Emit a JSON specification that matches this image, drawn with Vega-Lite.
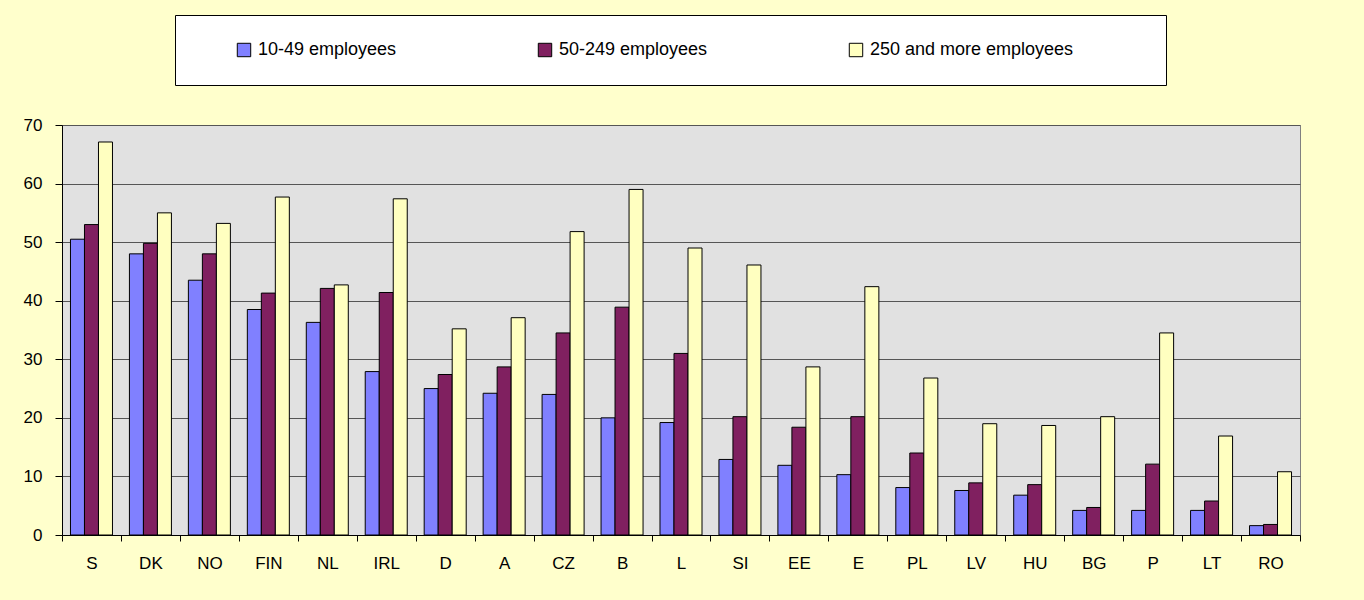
{
  "$schema": "https://vega.github.io/schema/vega-lite/v6.json",
  "width": 1238,
  "height": 410,
  "autosize": {"type": "none"},
  "padding": {"left": 62, "top": 125, "right": 64, "bottom": 65},
  "background": "#FFFFCC",
  "data": {"values": [
    {"country": "S", "size": "10-49 employees", "value": 50.5},
    {"country": "S", "size": "50-249 employees", "value": 53.0},
    {"country": "S", "size": "250 and more employees", "value": 67.1},
    {"country": "DK", "size": "10-49 employees", "value": 48.0},
    {"country": "DK", "size": "50-249 employees", "value": 49.8},
    {"country": "DK", "size": "250 and more employees", "value": 55.0},
    {"country": "NO", "size": "10-49 employees", "value": 43.5},
    {"country": "NO", "size": "50-249 employees", "value": 48.0},
    {"country": "NO", "size": "250 and more employees", "value": 53.2},
    {"country": "FIN", "size": "10-49 employees", "value": 38.5},
    {"country": "FIN", "size": "50-249 employees", "value": 41.3},
    {"country": "FIN", "size": "250 and more employees", "value": 57.7},
    {"country": "NL", "size": "10-49 employees", "value": 36.3},
    {"country": "NL", "size": "50-249 employees", "value": 42.1},
    {"country": "NL", "size": "250 and more employees", "value": 42.7},
    {"country": "IRL", "size": "10-49 employees", "value": 27.9},
    {"country": "IRL", "size": "50-249 employees", "value": 41.4},
    {"country": "IRL", "size": "250 and more employees", "value": 57.4},
    {"country": "D", "size": "10-49 employees", "value": 25.0},
    {"country": "D", "size": "50-249 employees", "value": 27.4},
    {"country": "D", "size": "250 and more employees", "value": 35.2},
    {"country": "A", "size": "10-49 employees", "value": 24.2},
    {"country": "A", "size": "50-249 employees", "value": 28.7},
    {"country": "A", "size": "250 and more employees", "value": 37.1},
    {"country": "CZ", "size": "10-49 employees", "value": 24.0},
    {"country": "CZ", "size": "50-249 employees", "value": 34.5},
    {"country": "CZ", "size": "250 and more employees", "value": 51.8},
    {"country": "B", "size": "10-49 employees", "value": 20.0},
    {"country": "B", "size": "50-249 employees", "value": 38.9},
    {"country": "B", "size": "250 and more employees", "value": 59.0},
    {"country": "L", "size": "10-49 employees", "value": 19.2},
    {"country": "L", "size": "50-249 employees", "value": 31.0},
    {"country": "L", "size": "250 and more employees", "value": 49.0},
    {"country": "SI", "size": "10-49 employees", "value": 12.9},
    {"country": "SI", "size": "50-249 employees", "value": 20.2},
    {"country": "SI", "size": "250 and more employees", "value": 46.1},
    {"country": "EE", "size": "10-49 employees", "value": 11.9},
    {"country": "EE", "size": "50-249 employees", "value": 18.4},
    {"country": "EE", "size": "250 and more employees", "value": 28.7},
    {"country": "E", "size": "10-49 employees", "value": 10.3},
    {"country": "E", "size": "50-249 employees", "value": 20.2},
    {"country": "E", "size": "250 and more employees", "value": 42.4},
    {"country": "PL", "size": "10-49 employees", "value": 8.1},
    {"country": "PL", "size": "50-249 employees", "value": 14.0},
    {"country": "PL", "size": "250 and more employees", "value": 26.8},
    {"country": "LV", "size": "10-49 employees", "value": 7.6},
    {"country": "LV", "size": "50-249 employees", "value": 8.9},
    {"country": "LV", "size": "250 and more employees", "value": 19.0},
    {"country": "HU", "size": "10-49 employees", "value": 6.8},
    {"country": "HU", "size": "50-249 employees", "value": 8.6},
    {"country": "HU", "size": "250 and more employees", "value": 18.7},
    {"country": "BG", "size": "10-49 employees", "value": 4.2},
    {"country": "BG", "size": "50-249 employees", "value": 4.7},
    {"country": "BG", "size": "250 and more employees", "value": 20.2},
    {"country": "P", "size": "10-49 employees", "value": 4.2},
    {"country": "P", "size": "50-249 employees", "value": 12.1},
    {"country": "P", "size": "250 and more employees", "value": 34.5},
    {"country": "LT", "size": "10-49 employees", "value": 4.2},
    {"country": "LT", "size": "50-249 employees", "value": 5.8},
    {"country": "LT", "size": "250 and more employees", "value": 16.9},
    {"country": "RO", "size": "10-49 employees", "value": 1.6},
    {"country": "RO", "size": "50-249 employees", "value": 1.8},
    {"country": "RO", "size": "250 and more employees", "value": 10.8}
  ]},
  "mark": {"type": "bar", "stroke": "#000000", "strokeWidth": 1},
  "encoding": {
    "x": {
      "field": "country", "type": "nominal", "sort": null,
      "scale": {"paddingInner": 0, "paddingOuter": 0},
      "axis": {
        "title": null, "labelAngle": 0, "tickBand": "extent",
        "tickSize": 6, "tickColor": "#000000", "domainColor": "#000000",
        "labelPadding": 14, "grid": false
      }
    },
    "xOffset": {
      "field": "size", "type": "nominal", "sort": ["10-49 employees", "50-249 employees", "250 and more employees"],
      "scale": {"paddingInner": 0, "paddingOuter": 0.605}
    },
    "y": {
      "field": "value", "type": "quantitative",
      "scale": {"domain": [0, 70], "nice": false},
      "axis": {
        "title": null, "values": [0, 10, 20, 30, 40, 50, 60, 70],
        "tickSize": 7, "tickColor": "#000000", "domainColor": "#000000",
        "labelPadding": 13, "grid": true, "gridColor": "#555555", "gridWidth": 1
      }
    },
    "color": {
      "field": "size", "type": "nominal",
      "sort": ["10-49 employees", "50-249 employees", "250 and more employees"],
      "scale": {
        "domain": ["10-49 employees", "50-249 employees", "250 and more employees"],
        "range": ["#8080FF", "#802060", "#FFFFC0"]
      },
      "legend": {
        "orient": "none", "legendX": 113, "legendY": -110,
        "direction": "horizontal", "columns": 3,
        "fillColor": "#FFFFFF", "strokeColor": "#000000",
        "padding": 26, "columnPadding": 105, "symbolOffset": 34,
        "symbolType": "square", "symbolSize": 180,
        "symbolStrokeColor": "#000000", "symbolStrokeWidth": 1, "symbolOpacity": 1,
        "labelFont": "Liberation Sans", "labelFontSize": 18, "labelColor": "#000000",
        "labelOffset": 5, "labelLimit": 500,
        "title": "\u00a0", "titleOrient": "right", "titleFontSize": 10, "titlePadding": 67
      }
    }
  },
  "config": {
    "view": {"fill": "#E1E1E1", "stroke": "#808080", "strokeWidth": 1},
    "axis": {
      "labelFont": "Liberation Sans", "labelFontSize": 17, "labelColor": "#000000",
      "domainWidth": 1, "tickWidth": 1
    }
  }
}
